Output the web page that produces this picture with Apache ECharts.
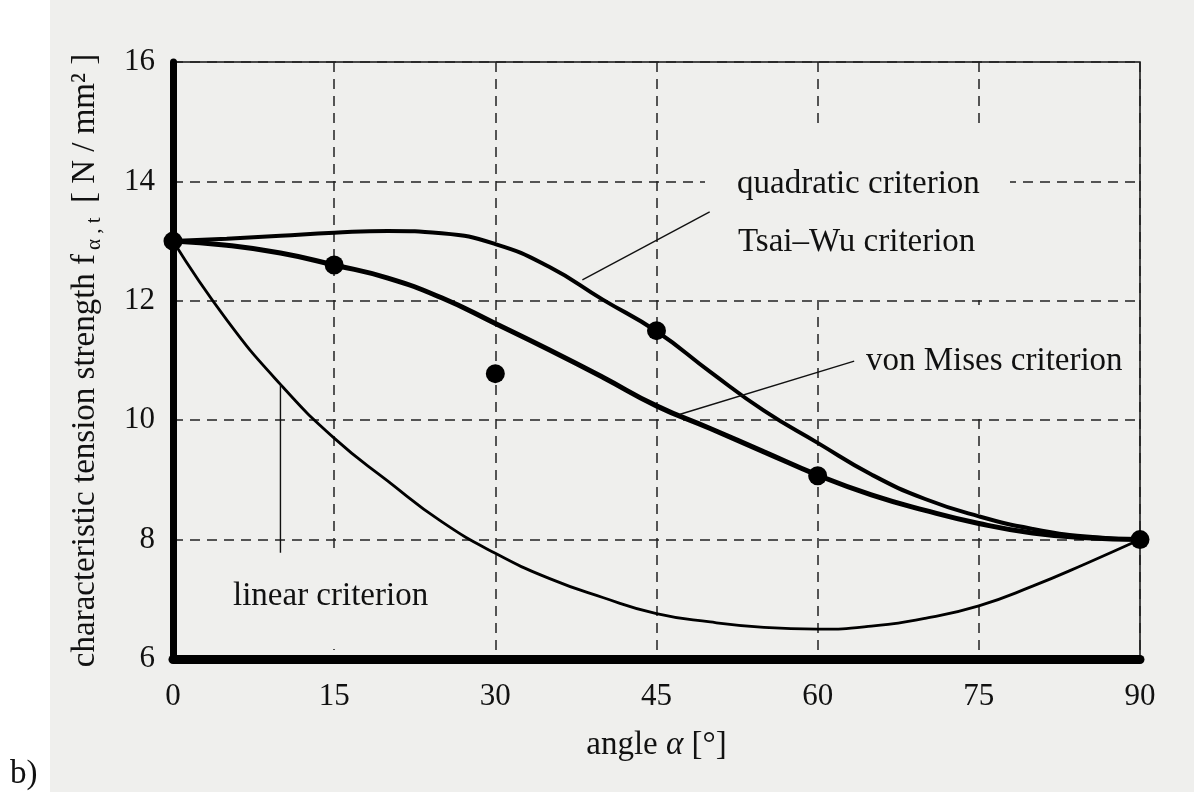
<!DOCTYPE html>
<html>
<head>
<meta charset="utf-8">
<title>tension strength vs angle</title>
<script src="https://cdn.jsdelivr.net/npm/echarts@6/dist/echarts.min.js"></script>
<style>
  body { margin: 0; background: #ffffff; }
  #paper { position: absolute; left: 50px; top: 0; width: 1144px; height: 792px; background: #efefed; }
  #main { position: absolute; left: 0; top: 0; width: 1194px; height: 798px; }
</style>
</head>
<body>
<div id="paper"></div>
<div id="main"></div>
<script>
// angle steps used to read the curves off the picture
var angles = [0, 5, 10, 15, 20, 25, 30, 35, 40, 45, 50, 55, 60, 65, 70, 75, 80, 85, 90];
var quadratic = [13, 13.04, 13.09, 13.14, 13.17, 13.13, 12.95, 12.57, 12.02, 11.49, 10.81, 10.16, 9.62, 9.09, 8.68, 8.39, 8.18, 8.05, 8.0];
var vonMises = [13, 12.93, 12.8, 12.6, 12.38, 12.05, 11.62, 11.18, 10.72, 10.24, 9.86, 9.47, 9.08, 8.75, 8.49, 8.27, 8.11, 8.03, 8.0];
var linear = [13, 11.68, 10.6, 9.7, 8.98, 8.3, 7.77, 7.35, 7.03, 6.76, 6.62, 6.53, 6.5, 6.55, 6.68, 6.89, 7.22, 7.6, 8.0];

// test points (dots)
var testAngles = [0, 15, 30, 45, 60, 90];
var testValues = [13, 12.6, 10.78, 11.5, 9.07, 8.0];

// leader lines from labels to curves
var quadLeader = [[38.1, 12.35], [49.95, 13.49]];
var misesLeader = [[47.2, 10.1], [63.4, 10.99]];
var linearLeader = [[10, 10.6], [10, 7.78]];

var xTicks = [0, 15, 30, 45, 60, 75, 90];
var yTicks = [6, 8, 10, 12, 14, 16];

var FONT = '"Liberation Serif", "DejaVu Serif", serif';
var PAPER = '#efefed';

function pairs(xs, ys) {
  return xs.map(function (x, i) { return [x, ys[i]]; });
}

var chart = echarts.init(document.getElementById('main'));

var option = {
  backgroundColor: 'transparent',
  animation: false,
  grid: {
    left: 173, right: 54, top: 62, bottom: 139,
    show: true, borderColor: '#111', borderWidth: 1.5, backgroundColor: 'transparent'
  },
  xAxis: {
    type: 'value', min: xTicks[0], max: xTicks[xTicks.length - 1], interval: 15,
    name: '{n|angle }{it|α}{n| [°]}', nameLocation: 'middle', nameGap: 70,
    nameTextStyle: {
      rich: {
        n: { fontFamily: FONT, fontSize: 33, color: '#111' },
        it: { fontFamily: FONT, fontSize: 33, color: '#111', fontStyle: 'italic' }
      }
    },
    axisLine: { onZero: false, lineStyle: { color: '#000', width: 9 } },
    axisTick: { show: false },
    axisLabel: { fontFamily: FONT, fontSize: 31, color: '#111', margin: 22 },
    splitLine: { show: true, lineStyle: { color: '#222', width: 1.5, type: [10, 7] } }
  },
  yAxis: {
    type: 'value', min: yTicks[0], max: yTicks[yTicks.length - 1], interval: 2,
    name: '{n|characteristic tension strength f}{s|α , t}{n| [ N / mm² ]}',
    nameLocation: 'middle', nameGap: 68, nameRotate: 90,
    nameTextStyle: {
      rich: {
        n: { fontFamily: FONT, fontSize: 33, color: '#111', lineHeight: 40 },
        s: { fontFamily: FONT, fontSize: 21, color: '#111', lineHeight: 40, verticalAlign: 'bottom', padding: [14, 6, 0, 4] }
      }
    },
    axisLine: { onZero: false, lineStyle: { color: '#000', width: 7 } },
    axisTick: { show: false },
    axisLabel: { fontFamily: FONT, fontSize: 31, color: '#111', margin: 18 },
    splitLine: { show: true, lineStyle: { color: '#222', width: 1.5, type: [10, 7] } }
  },
  graphic: [
    // paper-coloured patches where the grid is broken for the labels
    { type: 'rect', z: 1, shape: { x: 705, y: 124, width: 305, height: 174 }, style: { fill: PAPER } },
    { type: 'rect', z: 1, shape: { x: 850, y: 305, width: 286, height: 112 }, style: { fill: PAPER } },
    { type: 'rect', z: 1, shape: { x: 225, y: 548, width: 215, height: 101 }, style: { fill: PAPER } },
    { type: 'text', z: 5, left: 737, top: 168, style: { text: 'quadratic criterion', font: '33px ' + FONT, fill: '#111' } },
    { type: 'text', z: 5, left: 738, top: 226, style: { text: 'Tsai–Wu criterion', font: '33px ' + FONT, fill: '#111' } },
    { type: 'text', z: 5, left: 866, top: 345, style: { text: 'von Mises criterion', font: '33px ' + FONT, fill: '#111' } },
    { type: 'text', z: 5, left: 233, top: 580, style: { text: 'linear criterion', font: '33px ' + FONT, fill: '#111' } },
    { type: 'text', z: 5, left: 10, top: 758, style: { text: 'b)', font: '33px ' + FONT, fill: '#111' } }
  ],
  series: [
    {
      name: 'quadratic / Tsai-Wu', type: 'line', smooth: 0.5, showSymbol: false, z: 3,
      lineStyle: { color: '#000', width: 4 }, data: pairs(angles, quadratic)
    },
    {
      name: 'von Mises', type: 'line', smooth: 0.5, showSymbol: false, z: 3,
      lineStyle: { color: '#000', width: 5 }, data: pairs(angles, vonMises)
    },
    {
      name: 'linear', type: 'line', smooth: 0.5, showSymbol: false, z: 3,
      lineStyle: { color: '#000', width: 2.8 }, data: pairs(angles, linear)
    },
    { type: 'line', showSymbol: false, z: 3, lineStyle: { color: '#111', width: 1.4 }, data: quadLeader },
    { type: 'line', showSymbol: false, z: 3, lineStyle: { color: '#111', width: 1.4 }, data: misesLeader },
    { type: 'line', showSymbol: false, z: 3, lineStyle: { color: '#111', width: 1.4 }, data: linearLeader },
    {
      name: 'tests', type: 'scatter', symbol: 'circle', symbolSize: 19, z: 4,
      itemStyle: { color: '#000', opacity: 1 }, data: pairs(testAngles, testValues)
    }
  ]
};

chart.setOption(option);
</script>
</body>
</html>
